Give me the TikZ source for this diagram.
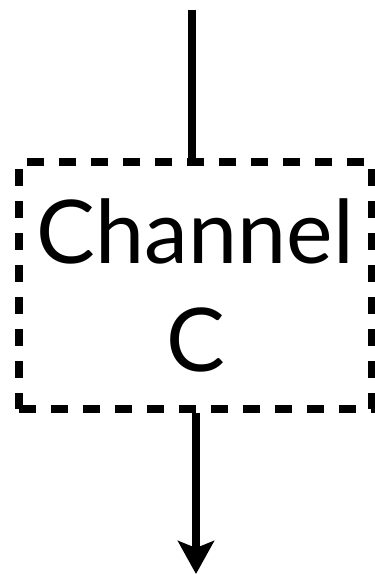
\documentclass[tikz,border=0pt]{standalone}
\usepackage{fontspec}
\setmainfont{Lato}
\usetikzlibrary{arrows.meta,positioning}
\tikzset{
  chanbox/.style={draw,line width=7.5pt,dash pattern=on 17pt off 15pt,minimum width=353pt,minimum height=247pt,align=center,inner sep=0pt,font=\fontsize{88}{108}\selectfont},
  wire/.style={line width=7.5pt},
  ar/.style={-{Stealth[length=33pt,width=36pt,inset=7pt]},line width=7.5pt}
}
\begin{document}
\begin{tikzpicture}[x=1pt,y=1pt]
\useasboundingbox (0,0) rectangle (375,574);
\node[chanbox] (chan) at (195.5,288.5) {Channel\\C};
\coordinate (src) at (192,564);
\coordinate (dst) at (196,0);
\draw[wire] (src) -- (src |- chan.north);
\draw[ar] (dst |- chan.south) -- (dst);
\end{tikzpicture}
\end{document}
